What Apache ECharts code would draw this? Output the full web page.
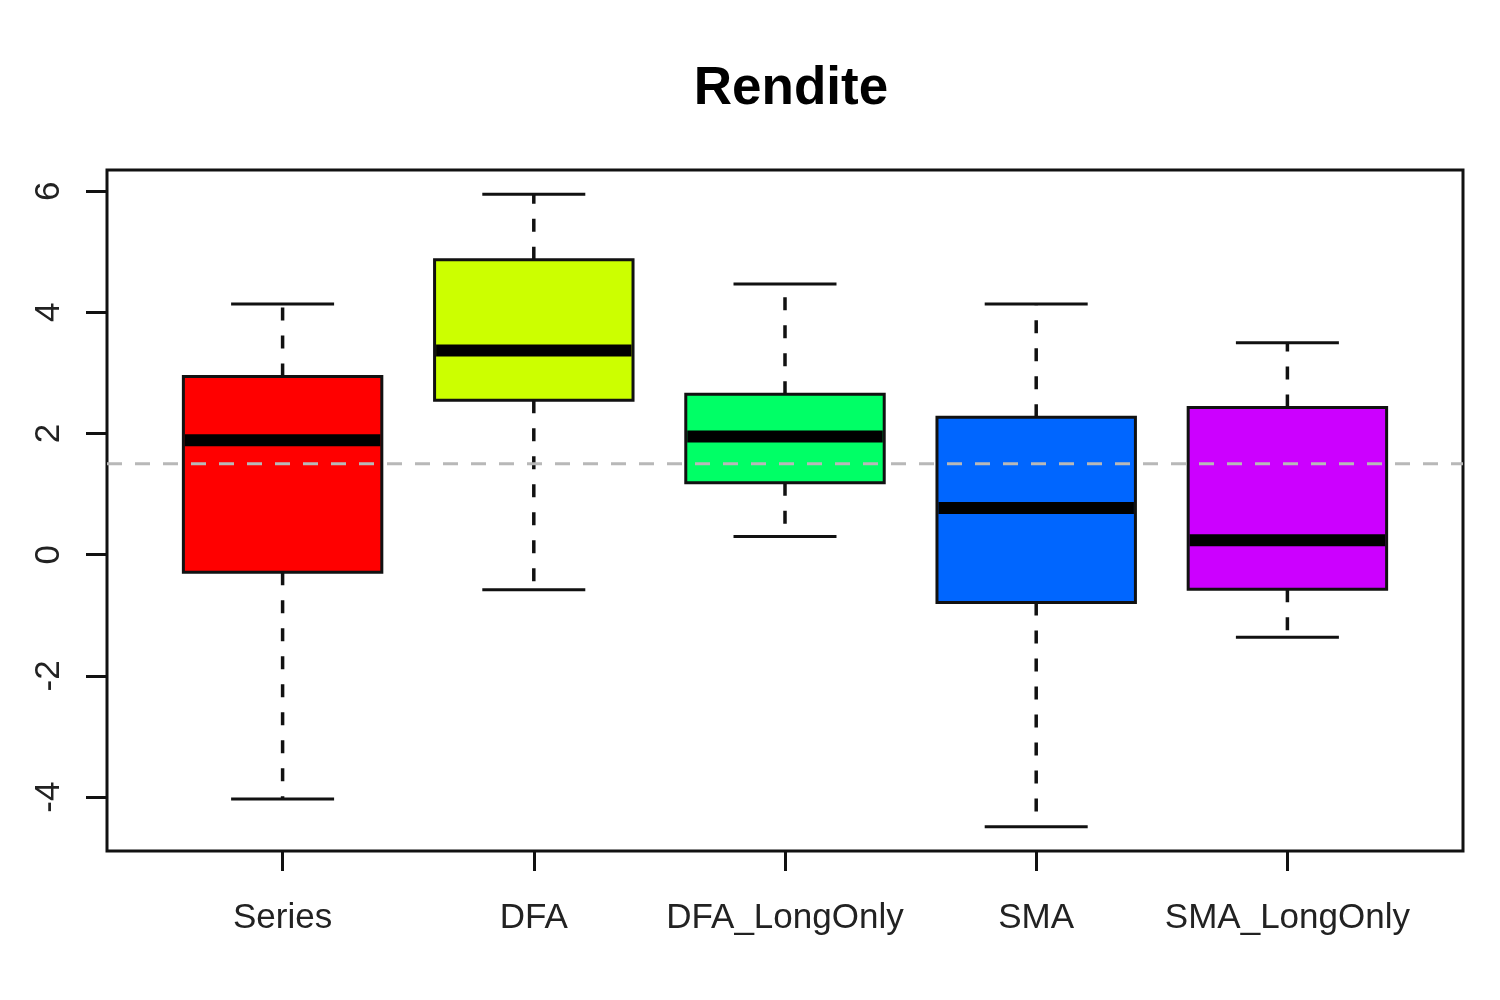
<!DOCTYPE html>
<html><head><meta charset="utf-8">
<script src="https://cdn.jsdelivr.net/npm/echarts@6/dist/echarts.min.js"></script>
<style>html,body{margin:0;padding:0;background:#fff}#c{width:1500px;height:1000px}</style>
</head><body><div id="c"></div>
<script>
const categories = ['Series', 'DFA', 'DFA_LongOnly', 'SMA', 'SMA_LongOnly'];
const whiskerLow = [-4.03, -0.58, 0.30, -4.49, -1.36];
const q1 = [-0.29, 2.55, 1.19, -0.79, -0.57];
const median = [1.89, 3.37, 1.95, 0.77, 0.24];
const q3 = [2.94, 4.87, 2.65, 2.27, 2.43];
const whiskerHigh = [4.14, 5.95, 4.47, 4.14, 3.50];
const boxColors = ['#FF0000', '#CCFF00', '#00FF66', '#0066FF', '#CC00FF'];
const yTicks = [-4, -2, 0, 2, 4, 6];
const yMin = -4.89, yMax = 6.35;
const refLine = 1.5;

const boxData = categories.map((c, i) => [i, whiskerLow[i], q1[i], median[i], q3[i], whiskerHigh[i]]);

function renderItem(params, api) {
  const i = api.value(0);
  const pLo = api.coord([i, api.value(1)]);
  const pQ1 = api.coord([i, api.value(2)]);
  const pMed = api.coord([i, api.value(3)]);
  const pQ3 = api.coord([i, api.value(4)]);
  const pHi = api.coord([i, api.value(5)]);
  const band = api.size([1, 0])[0];
  const bw = band * 0.79, cw = band * 0.41;
  const x = pLo[0];
  const dash = {stroke: '#111', lineWidth: 3.5, lineDash: [13, 15]};
  const solid = {stroke: '#111', lineWidth: 3};
  return {type: 'group', children: [
    {type: 'line', shape: {x1: x, y1: pQ3[1], x2: x, y2: pHi[1]}, style: dash},
    {type: 'line', shape: {x1: x, y1: pQ1[1], x2: x, y2: pLo[1]}, style: dash},
    {type: 'line', shape: {x1: x - cw / 2, y1: pHi[1], x2: x + cw / 2, y2: pHi[1]}, style: solid},
    {type: 'line', shape: {x1: x - cw / 2, y1: pLo[1], x2: x + cw / 2, y2: pLo[1]}, style: solid},
    {type: 'rect', shape: {x: x - bw / 2, y: pQ3[1], width: bw, height: pQ1[1] - pQ3[1]},
      style: {fill: boxColors[i], stroke: '#111', lineWidth: 3}},
    {type: 'line', shape: {x1: x - bw / 2 + 1.5, y1: pMed[1], x2: x + bw / 2 - 1.5, y2: pMed[1]},
      style: {stroke: '#000', lineWidth: 12}}
  ]};
}

const chart = echarts.init(document.getElementById('c'), null, {renderer: 'canvas'});
chart.setOption({
  backgroundColor: '#fff',
  animation: false,
  title: {
    text: 'Rendite', left: 786, top: 58, textAlign: 'center',
    textStyle: {fontFamily: 'Liberation Sans', fontWeight: 'bold', fontSize: 53, color: '#000'}
  },
  grid: [
    {left: 157, right: 87, top: 170, bottom: 149},
    {left: 107, right: 37, top: 170, bottom: 149, show: true, borderColor: '#111', borderWidth: 3, backgroundColor: 'transparent'}
  ],
  xAxis: [
    {type: 'category', gridIndex: 0, data: categories, boundaryGap: true, position: 'bottom',
      axisLine: {show: true, onZero: false, lineStyle: {color: '#111', width: 3, opacity: 0}},
      axisTick: {show: true, alignWithLabel: true, length: 20, lineStyle: {color: '#111', width: 3, opacity: 1}},
      axisLabel: {margin: 50, fontFamily: 'Liberation Sans', fontSize: 35, color: '#222', interval: 0},
      splitLine: {show: false}},
    {type: 'value', gridIndex: 1, min: 0, max: 1, show: false}
  ],
  yAxis: [
    {type: 'value', gridIndex: 0, min: yMin, max: yMax, offset: 50,
      axisLine: {show: false, onZero: false},
      axisTick: {show: true, length: 21, lineStyle: {color: '#111', width: 3}, customValues: yTicks},
      axisLabel: {rotate: 90, margin: 40, fontFamily: 'Liberation Sans', fontSize: 35, color: '#222', customValues: yTicks},
      splitLine: {show: false}},
    {type: 'value', gridIndex: 1, min: yMin, max: yMax, show: false}
  ],
  series: [
    {type: 'custom', xAxisIndex: 0, yAxisIndex: 0, renderItem: renderItem,
      encode: {x: 0, y: [1, 2, 3, 4, 5]}, data: boxData, z: 2},
    {type: 'line', xAxisIndex: 1, yAxisIndex: 1, data: [[0, refLine], [1, refLine]],
      showSymbol: false, symbol: 'none', z: 5,
      lineStyle: {color: '#b8b8b8', width: 3, type: [15, 13]}}
  ]
});
</script></body></html>
